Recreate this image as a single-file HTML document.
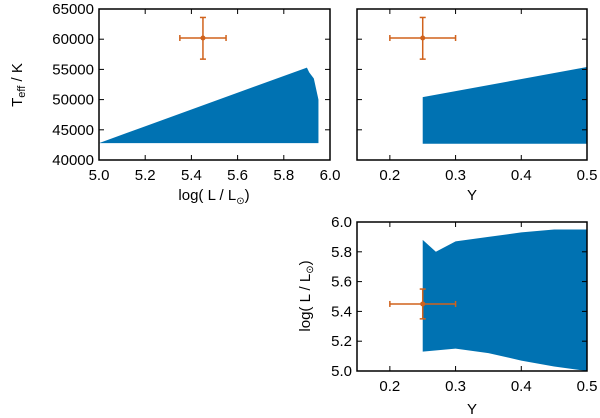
<!DOCTYPE html>
<html><head><meta charset="utf-8"><style>
body{margin:0;background:#fff;}
svg{display:block;font-family:"Liberation Sans",sans-serif;}
text{font-size:15px;fill:#000;}
</style></head><body>
<svg id="c" width="600" height="418"></svg>
<script>
const xTicksL=[5.0,5.2,5.4,5.6,5.8,6.0];
const yTicksT=[40000,45000,50000,55000,60000,65000];
const xTicksY=[0.2,0.3,0.4,0.5];
const yTicksL=[5.0,5.2,5.4,5.6,5.8,6.0];
// region outlines (data values)
const p1L=[5.0,5.9,5.91,5.93,5.95,5.95,5.0];
const p1T=[42800,55300,54500,53500,50000,42800,42800];
const p2Y=[0.25,0.25,0.5,0.5];
const p2T=[42700,50400,55400,42700];
const p3Y=[0.25,0.25,0.27,0.3,0.35,0.4,0.45,0.5,0.5,0.45,0.4,0.35,0.3,0.25];
const p3L=[5.12,5.88,5.8,5.87,5.9,5.93,5.95,5.95,5.0,5.03,5.07,5.12,5.15,5.13];
const obsL=5.45, obsLerr=0.1, obsT=60200, obsTlo=56700, obsThi=63600, obsY=0.25, obsYerr=0.05, obsLe=0.1;

const svg=document.getElementById('c');
const NS='http://www.w3.org/2000/svg';
function el(t,a,p){const e=document.createElementNS(NS,t);for(const k in a)e.setAttribute(k,a[k]);(p||svg).appendChild(e);return e;}
function lin(d0,d1,r0,r1){return v=>r0+(v-d0)/(d1-d0)*(r1-r0);}
const blue='#0072b2', org='#d0621c';

const P1={x:lin(5,6,99,330),y:lin(40000,65000,160,9),L:99,R:330,T:9,B:160};
const P2={x:lin(0.15,0.5,357,587),y:lin(40000,65000,160,9),L:357,R:587,T:9,B:160};
const P3={x:lin(0.15,0.5,357,587),y:lin(5,6,371,222),L:357,R:587,T:222,B:371};

function poly(P,xs,ys,name){
  const pts=xs.map((v,i)=>P.x(v)+','+P.y(ys[i])).join(' ');
  const e=el('polygon',{points:pts,fill:blue});
  
  
}
function frame(P,xt,yt,xfmt,yfmt,showY,name){
  const g=el('g',{});
  
  
  el('rect',{x:P.L,y:P.T,width:P.R-P.L,height:P.B-P.T,fill:'none',stroke:'#000','stroke-width':1.5},g);
  xt.forEach(v=>{const x=P.x(v);el('line',{x1:x,x2:x,y1:P.B,y2:P.B-5,stroke:'#000'},g);el('line',{x1:x,x2:x,y1:P.T,y2:P.T+5,stroke:'#000'},g);
    const t=el('text',{x:x,y:P.B+20,'text-anchor':'middle'},g);t.textContent=xfmt(v);
    });
  yt.forEach(v=>{const y=P.y(v);el('line',{x1:P.L,x2:P.L+5,y1:y,y2:y,stroke:'#000'},g);el('line',{x1:P.R,x2:P.R-5,y1:y,y2:y,stroke:'#000'},g);
    if(showY){const t=el('text',{x:P.L-5,y:y+5,'text-anchor':'end'},g);t.textContent=yfmt(v);
    }});
}
function errbar(P,x,y,xlo,xhi,ylo,yhi,name){
  const g=el('g',{stroke:org,'stroke-width':1.5});
  
  
  const X=P.x(x),Y=P.y(y),X0=P.x(xlo),X1=P.x(xhi),Y0=P.y(ylo),Y1=P.y(yhi);
  el('line',{x1:X0,x2:X1,y1:Y,y2:Y},g);el('line',{x1:X,x2:X,y1:Y0,y2:Y1},g);
  el('line',{x1:X0,x2:X0,y1:Y-3,y2:Y+3},g);el('line',{x1:X1,x2:X1,y1:Y-3,y2:Y+3},g);
  el('line',{x1:X-3,x2:X+3,y1:Y0,y2:Y0},g);el('line',{x1:X-3,x2:X+3,y1:Y1,y2:Y1},g);
  el('circle',{cx:X,cy:Y,r:2.5,fill:org,stroke:'none'},g);
}
poly(P1,p1L,p1T,'models-region-1');
poly(P2,p2Y,p2T,'models-region-2');
poly(P3,p3Y,p3L,'models-region-3');
frame(P1,xTicksL,yTicksT,v=>v.toFixed(1),v=>String(v),true,'panel-teff-vs-logl');
frame(P2,xTicksY,yTicksT,v=>v.toFixed(1),v=>'',false,'panel-teff-vs-y');
frame(P3,xTicksY,yTicksL,v=>v.toFixed(1),v=>v.toFixed(1),true,'panel-logl-vs-y');
errbar(P1,obsL,obsT,obsL-obsLerr,obsL+obsLerr,obsTlo,obsThi,'observed-point-1');
errbar(P2,obsY,obsT,obsY-obsYerr,obsY+obsYerr,obsTlo,obsThi,'observed-point-2');
errbar(P3,obsY,obsL,obsY-obsYerr,obsY+obsYerr,obsL-obsLe,obsL+obsLe,'observed-point-3');
</script>
<svg style="position:absolute;left:0;top:0" width="600" height="418">
<text x="214" y="200" text-anchor="middle">log( L / L<tspan font-size="10" dy="4">⊙</tspan><tspan dy="-4">)</tspan></text>
<text x="472" y="200" text-anchor="middle">Y</text>
<text x="472" y="414" text-anchor="middle">Y</text>
<text transform="translate(22,85) rotate(-90)" text-anchor="middle">T<tspan font-size="11" dy="3">eff</tspan><tspan dy="-3"> / K</tspan></text>
<text transform="translate(310,296) rotate(-90)" text-anchor="middle">log( L / L<tspan font-size="10" dy="3">⊙</tspan><tspan dy="-3">)</tspan></text>
</svg>
</body></html>
